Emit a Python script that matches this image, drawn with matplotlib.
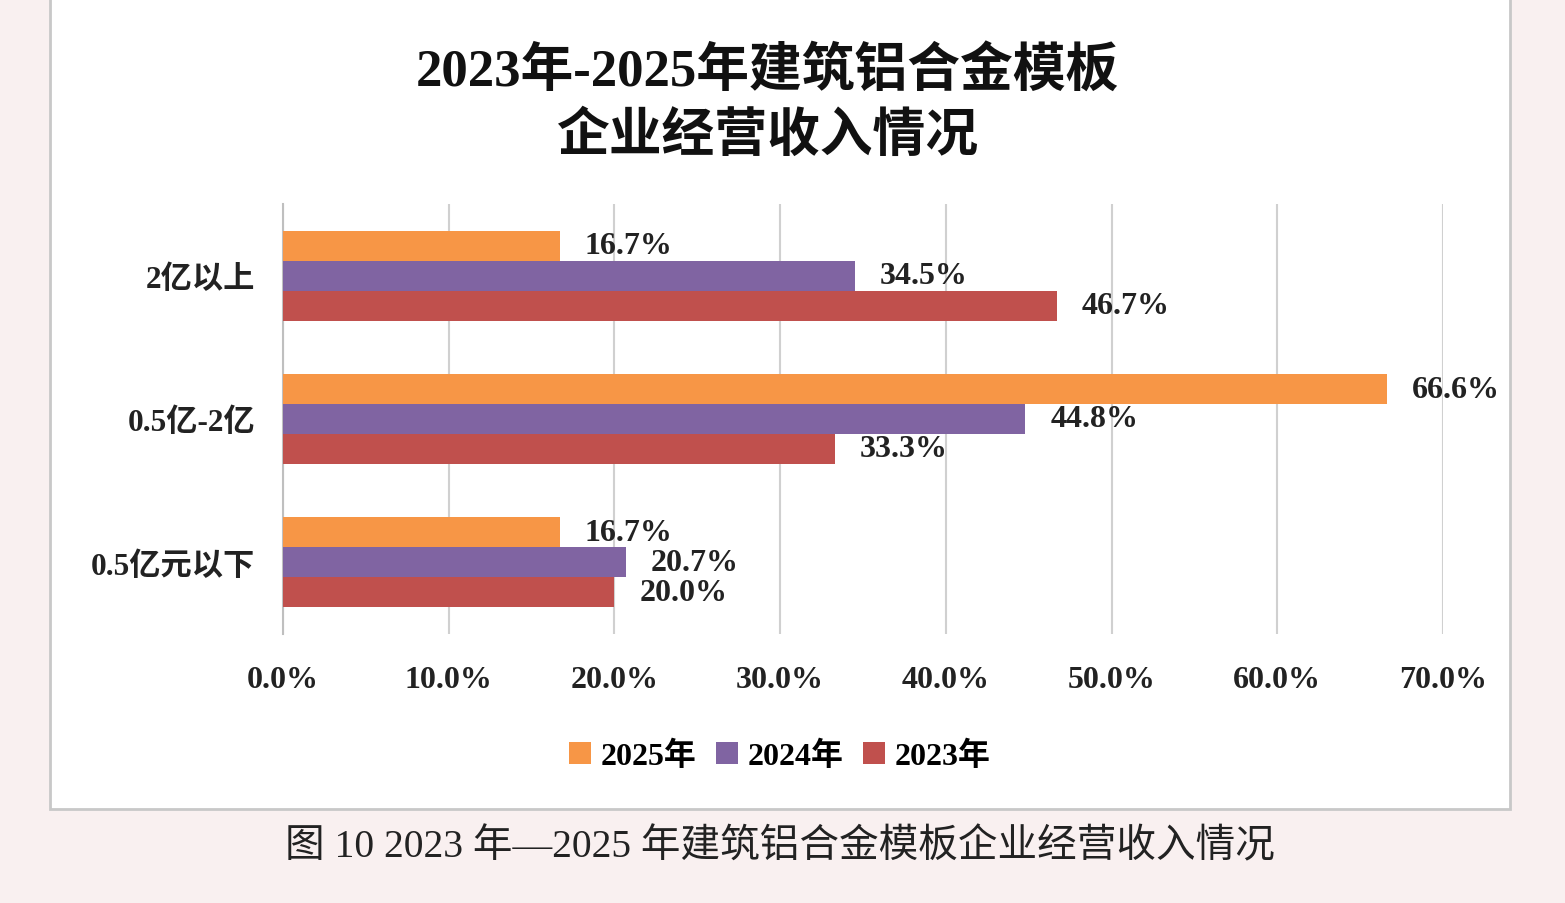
import matplotlib.pyplot as plt
import matplotlib.patches as patches
import numpy as np

# data
categories = ['2亿以上', '0.5亿-2亿', '0.5亿元以下']
years = ['2025年', '2024年', '2023年']
vals_2025 = [16.7, 66.6, 16.7]
vals_2024 = [34.5, 44.8, 20.7]
vals_2023 = [46.7, 33.3, 20.0]
xticks = [0, 10, 20, 30, 40, 50, 60, 70]

colors = ['#F79646', '#8064A2', '#C0504D']
fam = ['Liberation Serif', 'Noto Sans CJK SC', 'DejaVu Sans']
plt.rcParams['font.family'] = fam

fig = plt.figure(figsize=(15.65, 9.04), dpi=100)
fig.patch.set_facecolor('#f9f0f0')

# white panel with grey frame
panel = patches.Rectangle((50 / 1565, 1 - 810 / 904), 1460 / 1565, 815 / 904,
                          transform=fig.transFigure, facecolor='white',
                          edgecolor='#c8c8c8', linewidth=2, zorder=-1)
fig.patches.append(panel)

ax = fig.add_axes([283 / 1565, 1 - 635 / 904, 1160 / 1565, 430 / 904])
ax.set_facecolor('none')
ax.set_zorder(2)

y = np.arange(len(categories))
h = 0.209
series = [vals_2025, vals_2024, vals_2023]
for i, (vals, col, lab) in enumerate(zip(series, colors, years)):
    pos = y + (i - 1) * h
    ax.barh(pos, vals, height=h, color=col, label=lab, zorder=3)
    for p, v in zip(pos, vals):
        ax.annotate('{:.1f}%'.format(v), (v, p), xytext=(18, 0),
                    textcoords='offset points', va='center', ha='left',
                    fontsize=23, fontweight='bold', color='#222222')

ax.set_xlim(0, 70)
ax.set_ylim(2.5, -0.5)
ax.set_yticks(y)
ax.set_yticklabels(categories, fontsize=22.5, fontweight='bold', color='#222222')
ax.set_xticks(xticks)
ax.set_xticklabels(['{:.1f}%'.format(t) for t in xticks], fontsize=23,
                   fontweight='bold', color='#222222')
ax.tick_params(axis='x', length=0, pad=22)
ax.tick_params(axis='y', length=0, pad=20)
ax.grid(axis='x', color='#d0d0d0', linewidth=1.5, zorder=0)
for s in ['top', 'right', 'bottom']:
    ax.spines[s].set_visible(False)
ax.spines['left'].set_color('#bfbfbf')
ax.spines['left'].set_linewidth(1.5)

fig.legend(loc='center', bbox_to_anchor=(780 / 1565, 1 - 757 / 904), ncol=3,
           frameon=False, handlelength=0.7, handleheight=0.7,
           handletextpad=0.3, columnspacing=0.6,
           prop={'family': fam, 'weight': 'bold', 'size': 23})

fig.text(767 / 1565, 1 - 104 / 904, '2023年-2025年建筑铝合金模板\n企业经营收入情况',
         ha='center', va='center', fontsize=38, fontweight='bold',
         color='#111111', linespacing=1.35)

fig.text(780 / 1565, 1 - 848 / 904, '图 10 2023 年—2025 年建筑铝合金模板企业经营收入情况',
         ha='center', va='center', fontsize=28.5, color='#222222')

fig.savefig('out.png', dpi=100, facecolor=fig.get_facecolor())
